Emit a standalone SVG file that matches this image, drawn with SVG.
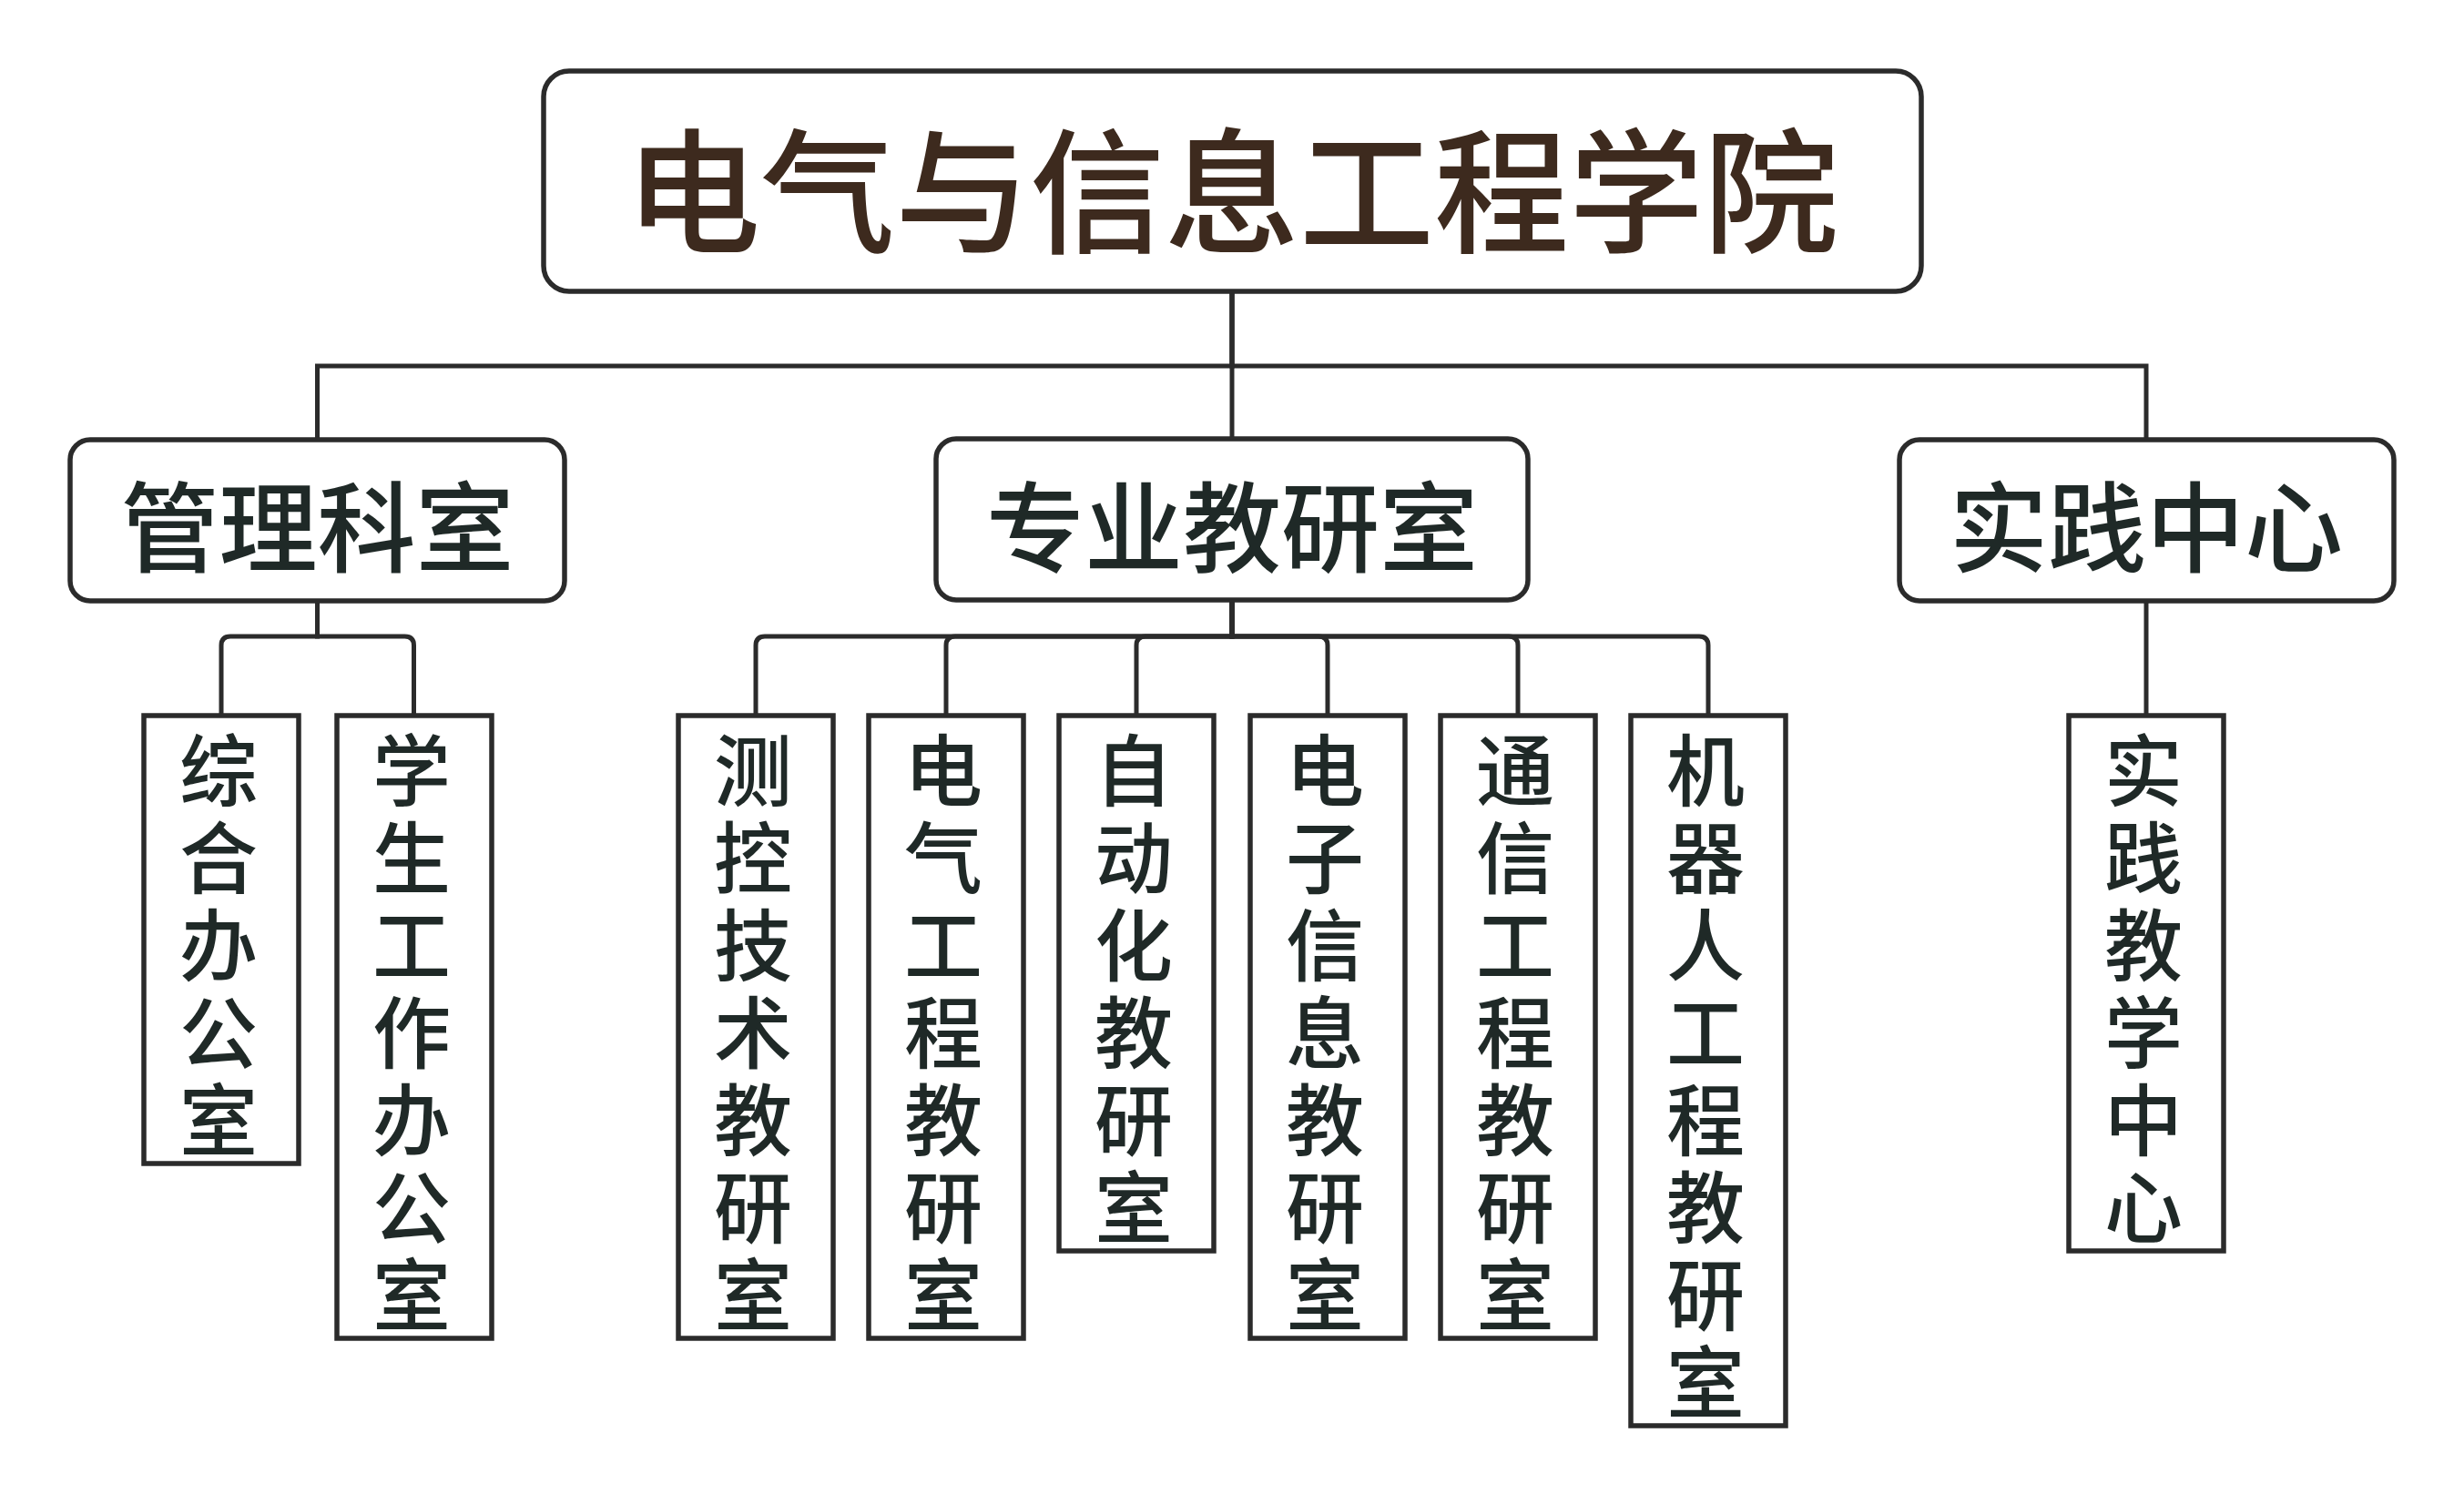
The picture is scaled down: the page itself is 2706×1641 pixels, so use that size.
<svg xmlns="http://www.w3.org/2000/svg" width="2706" height="1641" viewBox="0 0 2706 1641">
<style>
.box{fill:#ffffff;stroke:#2b2b2b;stroke-width:5.5}
.con{fill:none;stroke:#2b2b2b;stroke-width:5}
.t0{font-family:"Noto Sans CJK SC","Noto Sans CJK TC",sans-serif;font-size:148px;font-weight:500;fill:#3d2a1e;text-anchor:middle}
.t1{font-family:"Noto Sans CJK SC","Noto Sans CJK TC",sans-serif;font-size:108px;font-weight:500;fill:#1f2927;text-anchor:middle}
.t2{font-family:"Noto Sans CJK SC","Noto Sans CJK TC",sans-serif;font-size:86px;font-weight:500;fill:#1f2927;text-anchor:start;writing-mode:vertical-rl;letter-spacing:10px}
</style>
<rect width="2706" height="1641" fill="#ffffff"/>
<g id="connectors">
<path class="con" d="M1353 320 V402 H348.5 V483"/>
<path class="con" d="M1353 320 V402 H2357 V483"/>
<path class="con" d="M1353 320 V482"/>
<path class="con" d="M348.5 660 V699 H253 Q243 699 243 709 V786"/>
<path class="con" d="M348.5 660 V699 H444.5 Q454.5 699 454.5 709 V786"/>
<path class="con" d="M1353 659 V699 H840 Q830 699 830 709 V786"/>
<path class="con" d="M1353 659 V699 H1049 Q1039 699 1039 709 V786"/>
<path class="con" d="M1353 659 V699 H1258 Q1248 699 1248 709 V786"/>
<path class="con" d="M1353 659 V699 H1448 Q1458 699 1458 709 V786"/>
<path class="con" d="M1353 659 V699 H1657 Q1667 699 1667 709 V786"/>
<path class="con" d="M1353 659 V699 H1866 Q1876 699 1876 709 V786"/>
<path class="con" d="M2357 660 V786"/>
</g>
<g id="n-root">
<rect class="box" x="597" y="78" width="1513" height="242" rx="28"/>
<text class="t0" x="1353" y="266">电气与信息工程学院</text>
</g>
<g id="n-guanli">
<rect class="box" x="77" y="483" width="543" height="177" rx="22"/>
<text class="t1" x="348.5" y="620">管理科室</text>
</g>
<g id="n-zhuanye">
<rect class="box" x="1028" y="482" width="650" height="177" rx="22"/>
<text class="t1" x="1353" y="620">专业教研室</text>
</g>
<g id="n-shijian">
<rect class="box" x="2086" y="483" width="543" height="177" rx="22"/>
<text class="t1" x="2357" y="620">实践中心</text>
</g>
<g id="n-zonghe">
<rect class="box" x="158" y="786" width="170" height="492"/>
<text class="t2" x="240" y="803">综合办公室</text>
</g>
<g id="n-xuesheng">
<rect class="box" x="370" y="786" width="170" height="684"/>
<text class="t2" x="452" y="803">学生工作办公室</text>
</g>
<g id="n-cekong">
<rect class="box" x="745" y="786" width="170" height="684"/>
<text class="t2" x="827" y="803">测控技术教研室</text>
</g>
<g id="n-dianqi">
<rect class="box" x="954" y="786" width="170" height="684"/>
<text class="t2" x="1036" y="803">电气工程教研室</text>
</g>
<g id="n-zidonghua">
<rect class="box" x="1163" y="786" width="170" height="588"/>
<text class="t2" x="1245" y="803">自动化教研室</text>
</g>
<g id="n-dianzi">
<rect class="box" x="1373" y="786" width="170" height="684"/>
<text class="t2" x="1455" y="803">电子信息教研室</text>
</g>
<g id="n-tongxin">
<rect class="box" x="1582" y="786" width="170" height="684"/>
<text class="t2" x="1664" y="803">通信工程教研室</text>
</g>
<g id="n-jiqiren">
<rect class="box" x="1791" y="786" width="170" height="780"/>
<text class="t2" x="1873" y="803">机器人工程教研室</text>
</g>
<g id="n-shijianjiaoxue">
<rect class="box" x="2272" y="786" width="170" height="588"/>
<text class="t2" x="2354" y="803">实践教学中心</text>
</g>
</svg>
